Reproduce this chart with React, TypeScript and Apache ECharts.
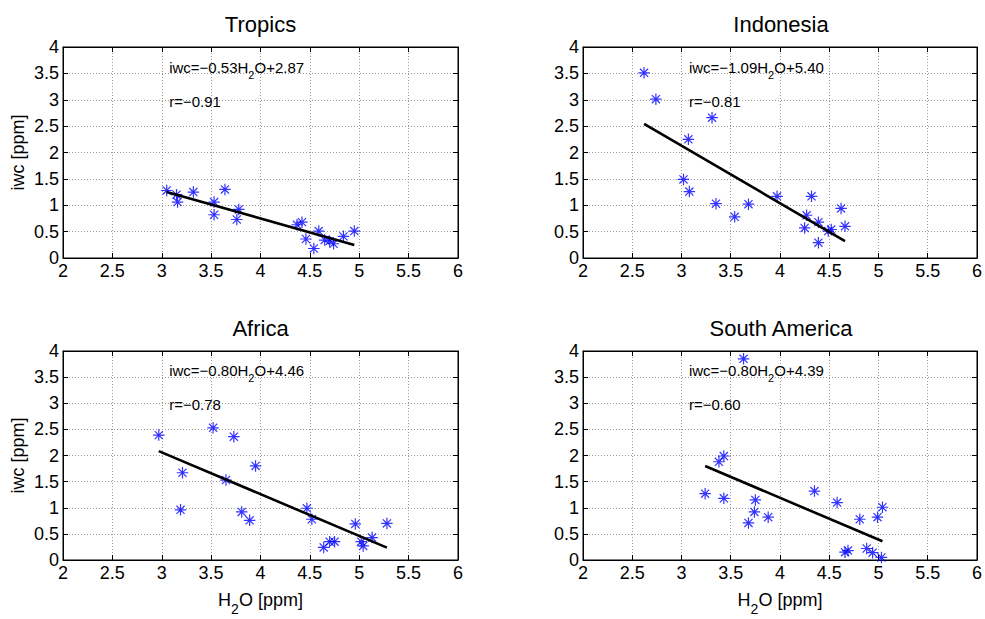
import React, { useEffect, useRef } from "react";
import * as echarts from "echarts";

// ---- data ----
const panelTitles = ["Tropics", "Indonesia", "Africa", "South America"];

const tropicsH2O = [3.05, 3.15, 3.16, 3.32, 3.53, 3.53, 3.64, 3.78, 3.76, 4.37, 4.42, 4.46, 4.54, 4.59, 4.65, 4.7, 4.74, 4.84, 4.95];
const tropicsIWC = [1.28, 1.2, 1.06, 1.25, 1.06, 0.82, 1.3, 0.92, 0.73, 0.63, 0.68, 0.36, 0.18, 0.51, 0.34, 0.32, 0.27, 0.41, 0.51];

const indonesiaH2O = [2.62, 2.74, 3.31, 3.07, 3.02, 3.08, 3.35, 3.54, 3.68, 3.97, 4.32, 4.27, 4.25, 4.39, 4.39, 4.49, 4.52, 4.62, 4.66];
const indonesiaIWC = [3.51, 3.01, 2.66, 2.25, 1.49, 1.26, 1.03, 0.78, 1.02, 1.17, 1.17, 0.81, 0.57, 0.68, 0.29, 0.51, 0.54, 0.94, 0.6];

const africaH2O = [2.97, 3.52, 3.73, 3.95, 3.21, 3.65, 3.19, 3.81, 3.89, 4.47, 4.52, 4.64, 4.7, 4.75, 4.96, 5.02, 5.04, 5.13, 5.28];
const africaIWC = [2.39, 2.53, 2.36, 1.8, 1.67, 1.53, 0.96, 0.92, 0.76, 0.99, 0.78, 0.24, 0.35, 0.35, 0.69, 0.35, 0.27, 0.43, 0.7];

const southAmericaH2O = [3.63, 3.24, 3.38, 3.43, 3.43, 3.68, 3.74, 3.75, 3.88, 4.35, 4.58, 4.66, 4.69, 4.81, 4.88, 4.94, 4.99, 5.03, 5.04];
const southAmericaIWC = [3.85, 1.27, 1.88, 1.99, 1.18, 0.71, 0.92, 1.15, 0.82, 1.32, 1.1, 0.15, 0.18, 0.78, 0.22, 0.14, 0.82, 0.05, 1.01];

const fitSlopes = [-0.53, -1.09, -0.8, -0.8];
const fitIntercepts = [2.87, 5.4, 4.46, 4.39];
const correlations = [-0.91, -0.81, -0.78, -0.6];

const xTicks = { min: 2, max: 6, interval: 0.5 };
const yTicks = { min: 0, max: 4, interval: 0.5 };

// annotation anchor (data coordinates)
const annotX = 3.07;
const eqY = 3.62;
const rY = 2.97;

const panelX = [tropicsH2O, indonesiaH2O, africaH2O, southAmericaH2O];
const panelY = [tropicsIWC, indonesiaIWC, africaIWC, southAmericaIWC];

// ---- layout ----
const grids = [
  { left: 63, top: 47, width: 395, height: 211 },
  { left: 583, top: 47, width: 396, height: 211 },
  { left: 63, top: 351, width: 395, height: 209 },
  { left: 583, top: 351, width: 396, height: 209 },
];

const FONT = "'Liberation Sans', Arial, Helvetica, sans-serif";
const BLUE = "#0000ff";
const ASTERISK =
  "path://M0 6 L12 6 M6 0 L6 12 M1.76 1.76 L10.24 10.24 M10.24 1.76 L1.76 10.24";

const signed = (v: number) => (v < 0 ? "\u2212" + Math.abs(v).toFixed(2) : v.toFixed(2));

export default function App() {
  const ref = useRef<HTMLDivElement>(null);
  useEffect(() => {
    const chart = echarts.init(ref.current!, null, { renderer: "svg" });

    const xAxis: any[] = [];
    const yAxis: any[] = [];
    const series: any[] = [];
    const graphic: any[] = [];

    grids.forEach((g, i) => {
      xAxis.push({
        type: "value",
        gridIndex: i,
        ...xTicks,
        position: "bottom",
        axisLine: { show: true, onZero: false, lineStyle: { color: "#000", width: 1 } },
        axisTick: { show: true, inside: true, length: 5, lineStyle: { color: "#000" } },
        axisLabel: { color: "#000", fontSize: 18, fontFamily: FONT, margin: 4, formatter: (v: number) => String(v) },
        splitLine: { show: true, lineStyle: { color: "#9a9a9a", type: [1, 2], width: 1 } },
        name: i >= 2 ? "{a|H}{s|2}{a|O [ppm]}" : "",
        nameLocation: "middle",
        nameGap: 24,
        nameTextStyle: {
          rich: {
            a: { fontSize: 18, fontFamily: FONT, color: "#000", lineHeight: 32 },
            s: { fontSize: 14, fontFamily: FONT, color: "#000", lineHeight: 14, verticalAlign: "bottom" },
          },
        },
      });
      xAxis.push({
        type: "value",
        gridIndex: i,
        ...xTicks,
        position: "top",
        axisLine: { show: true, onZero: false, lineStyle: { color: "#000", width: 1 } },
        axisTick: { show: true, inside: true, length: 5, lineStyle: { color: "#000" } },
        axisLabel: { show: false },
        splitLine: { show: false },
      });
      yAxis.push({
        type: "value",
        gridIndex: i,
        ...yTicks,
        position: "left",
        axisLine: { show: true, onZero: false, lineStyle: { color: "#000", width: 1 } },
        axisTick: { show: true, inside: true, length: 5, lineStyle: { color: "#000" } },
        axisLabel: { color: "#000", fontSize: 18, fontFamily: FONT, margin: 4, formatter: (v: number) => String(v) },
        splitLine: { show: true, lineStyle: { color: "#9a9a9a", type: [1, 2], width: 1 } },
        name: i % 2 === 0 ? "iwc [ppm]" : "",
        nameLocation: "middle",
        nameGap: 36,
        nameTextStyle: { fontSize: 18, fontFamily: FONT, color: "#000" },
      });
      yAxis.push({
        type: "value",
        gridIndex: i,
        ...yTicks,
        position: "right",
        axisLine: { show: true, onZero: false, lineStyle: { color: "#000", width: 1 } },
        axisTick: { show: true, inside: true, length: 5, lineStyle: { color: "#000" } },
        axisLabel: { show: false },
        splitLine: { show: false },
      });

      const xs = panelX[i];
      const ys = panelY[i];
      series.push({
        type: "scatter",
        xAxisIndex: 2 * i,
        yAxisIndex: 2 * i,
        symbol: ASTERISK,
        symbolSize: 11.5,
        itemStyle: { color: "none", borderColor: BLUE, borderWidth: 1.2 },
        data: xs.map((x, k) => [x, ys[k]]),
        silent: true,
      });
      const x0 = Math.min(...xs);
      const x1 = Math.max(...xs);
      series.push({
        type: "line",
        xAxisIndex: 2 * i,
        yAxisIndex: 2 * i,
        symbol: "none",
        lineStyle: { color: "#000", width: 2.6 },
        data: [
          [x0, fitSlopes[i] * x0 + fitIntercepts[i]],
          [x1, fitSlopes[i] * x1 + fitIntercepts[i]],
        ],
        silent: true,
      });
      const eqText = `{a|iwc=${signed(fitSlopes[i])}H}{s|2}{a|O+${fitIntercepts[i].toFixed(2)}}`;
      const rText = `{a|r=${signed(correlations[i])}}`;
      const rich = {
        a: { fontSize: 15, fontFamily: FONT, color: "#000", lineHeight: 26, textBorderWidth: 0 },
        s: { fontSize: 11, fontFamily: FONT, color: "#000", lineHeight: 11, verticalAlign: "bottom", textBorderWidth: 0 },
      };
      series.push({
        type: "scatter",
        xAxisIndex: 2 * i,
        yAxisIndex: 2 * i,
        symbolSize: 1,
        itemStyle: { color: "rgba(0,0,0,0)", opacity: 1 },
        silent: true,
        data: [
          { value: [annotX, eqY], label: { formatter: () => eqText } },
          { value: [annotX, rY], label: { formatter: () => rText } },
        ],
        label: {
          show: true,
          position: "right",
          distance: 0,
          color: "#000",
          opacity: 1,
          textBorderWidth: 0,
          textBorderColor: "transparent",
          rich,
        },
      });

      graphic.push({
        type: "text",
        x: g.left + g.width / 2,
        y: g.top - 23,
        style: {
          text: panelTitles[i],
          fontSize: 22,
          fontFamily: FONT,
          fill: "#000",
          align: "center",
          verticalAlign: "middle",
          textAlign: "center",
          textVerticalAlign: "middle",
        },
      });
    });

    chart.setOption({
      animation: false,
      backgroundColor: "#fff",
      grid: grids.map((g) => ({ ...g, show: true, borderColor: "#000", borderWidth: 1, containLabel: false })),
      xAxis,
      yAxis,
      series,
      graphic,
    });
    return () => chart.dispose();
  }, []);
  return (
    <div
      ref={ref}
      style={{ position: "absolute", left: 0, top: 0, width: 985, height: 619, background: "#fff" }}
    />
  );
}
